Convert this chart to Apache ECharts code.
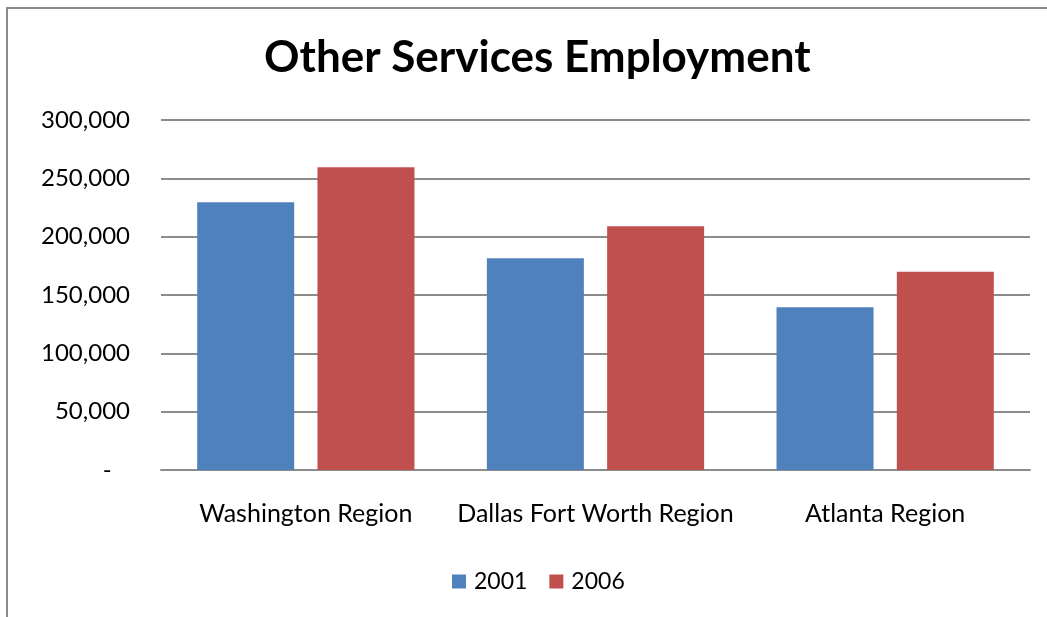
<!DOCTYPE html>
<html>
<head>
<meta charset="utf-8">
<script src="https://cdn.jsdelivr.net/npm/echarts@6/dist/echarts.min.js"></script>
<style>
  html, body { margin: 0; padding: 0; background: #fff; }
  #chart { width: 1047px; height: 617px; }
</style>
</head>
<body>
<div id="chart"></div>
<script>
// Employment in other services, by metro region
const regions = ['Washington Region', 'Dallas Fort Worth Region', 'Atlanta Region'];
const years = ['2001', '2006'];
const jobs2001 = [229500, 181500, 139500];
const jobs2006 = [259500, 209000, 170000];

const FONT = 'Lato, "Open Sans", sans-serif';

const chart = echarts.init(document.getElementById('chart'));
chart.setOption({
  animation: false,
  backgroundColor: '#ffffff',
  textStyle: { fontFamily: FONT, color: '#000' },
  graphic: [{
    type: 'rect',
    shape: { x: 7, y: 8, width: 1100, height: 700 },
    style: { fill: 'none', stroke: '#8c8c8c', lineWidth: 2 },
    silent: true
  }],
  title: {
    text: 'Other Services Employment',
    left: 259,
    top: 31,
    textStyle: { fontFamily: FONT, fontSize: 44, fontWeight: 'bold', color: '#000' }
  },
  legend: {
    data: years,
    bottom: 19,
    left: 447,
    itemWidth: 14,
    itemHeight: 14,
    itemGap: 22,
    icon: 'rect',
    textStyle: { fontFamily: FONT, fontSize: 23, color: '#000', padding: [0, 0, 0, 3] }
  },
  grid: { left: 161, right: 17, top: 120, bottom: 147, containLabel: false },
  xAxis: {
    type: 'category',
    data: regions,
    axisLine: { lineStyle: { color: '#8c8c8c', width: 2 } },
    axisTick: { show: false },
    axisLabel: { fontFamily: FONT, fontSize: 25, color: '#000', margin: 31, interval: 0 }
  },
  yAxis: {
    type: 'value',
    min: 0,
    max: 300000,
    interval: 50000,
    axisLine: { show: false },
    axisTick: { show: false },
    splitLine: { lineStyle: { color: '#8c8c8c', width: 2 } },
    axisLabel: {
      fontFamily: FONT,
      fontSize: 24,
      color: '#000',
      margin: 31,
      formatter: v => v === 0 ? '-   ' : v.toLocaleString('en-US')
    }
  },
  series: [
    {
      name: '2001',
      type: 'bar',
      data: jobs2001,
      barWidth: 97,
      barGap: '24%',
      itemStyle: { color: '#4f81bd' }
    },
    {
      name: '2006',
      type: 'bar',
      data: jobs2006,
      barWidth: 97,
      itemStyle: { color: '#c0504d' }
    }
  ]
});
</script>
</body>
</html>
